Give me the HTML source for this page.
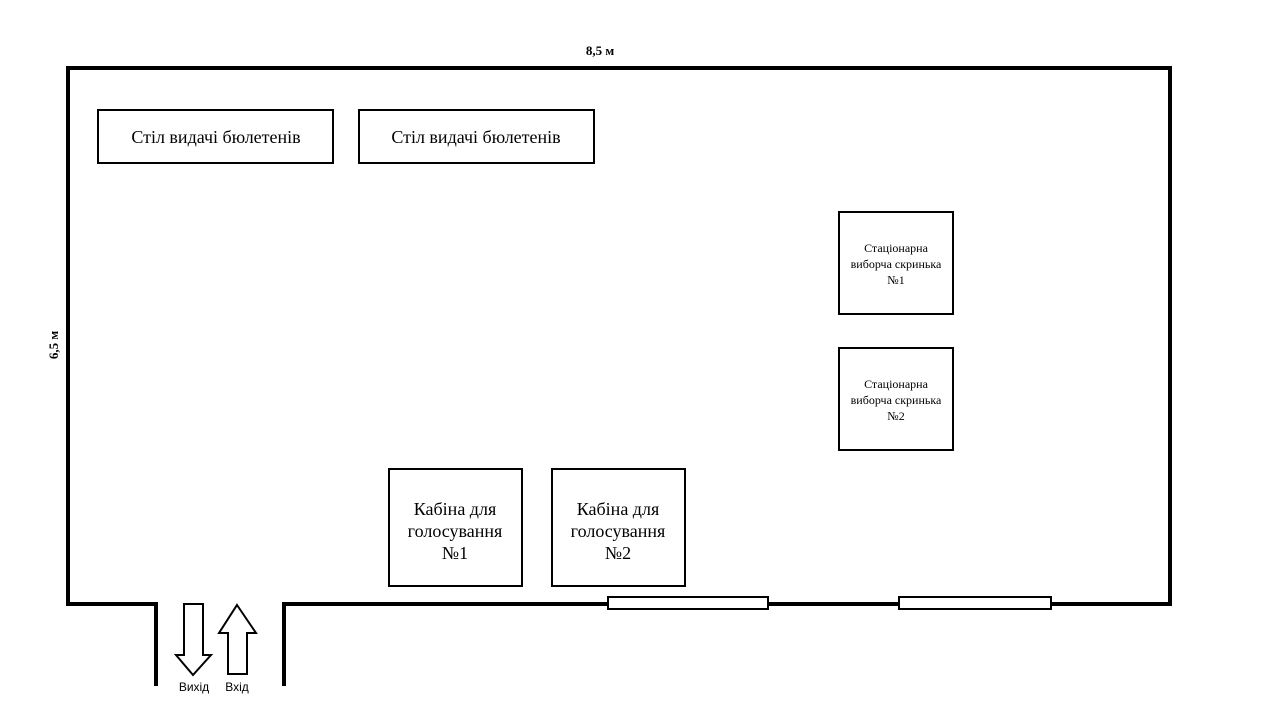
<!DOCTYPE html>
<html><head><meta charset="utf-8"><style>body{margin:0;background:#fff}svg{display:block}</style></head><body>
<svg width="1280" height="720" xmlns="http://www.w3.org/2000/svg" font-family="Liberation Serif, serif">
<rect width="1280" height="720" fill="#fff"/>
<g fill="none" stroke="#000" stroke-width="4">
<polyline points="156,686 156,604 68,604 68,68 1170,68 1170,604 284,604 284,686"/>
</g>
<g fill="#fff" stroke="#000" stroke-width="2">
<rect x="608" y="597" width="160" height="12"/>
<rect x="899" y="597" width="152" height="12"/>
<rect x="98" y="110" width="235" height="53"/>
<rect x="359" y="110" width="235" height="53"/>
<rect x="839" y="212" width="114" height="102"/>
<rect x="839" y="348" width="114" height="102"/>
<rect x="389" y="469" width="133" height="117"/>
<rect x="552" y="469" width="133" height="117"/>
<polygon points="184,604 203,604 203,655 211,655 193,675 176,655 184,655"/>
<polygon points="237,605 256,633 247,633 247,674 228,674 228,633 219,633"/>
</g>
<g font-size="18" text-anchor="middle">
<text x="216" y="143">Стіл видачі бюлетенів</text>
<text x="476" y="143">Стіл видачі бюлетенів</text>
<text x="455" y="515">Кабіна для</text><text x="455" y="537">голосування</text><text x="455" y="559">№1</text>
<text x="618" y="515">Кабіна для</text><text x="618" y="537">голосування</text><text x="618" y="559">№2</text>
</g>
<g font-size="12" text-anchor="middle">
<text x="896" y="252">Стаціонарна</text><text x="896" y="268">виборча скринька</text><text x="896" y="284">№1</text>
<text x="896" y="388">Стаціонарна</text><text x="896" y="404">виборча скринька</text><text x="896" y="420">№2</text>
</g>
<text x="600" y="55" font-size="13" font-weight="bold" text-anchor="middle">8,5 м</text>
<text transform="translate(58,345) rotate(-90)" font-size="13" font-weight="bold" text-anchor="middle">6,5 м</text>
<g font-family="Liberation Sans, sans-serif" font-size="12" text-anchor="middle">
<text x="194" y="691">Вихід</text><text x="237" y="691">Вхід</text>
</g>
</svg>
</body></html>
